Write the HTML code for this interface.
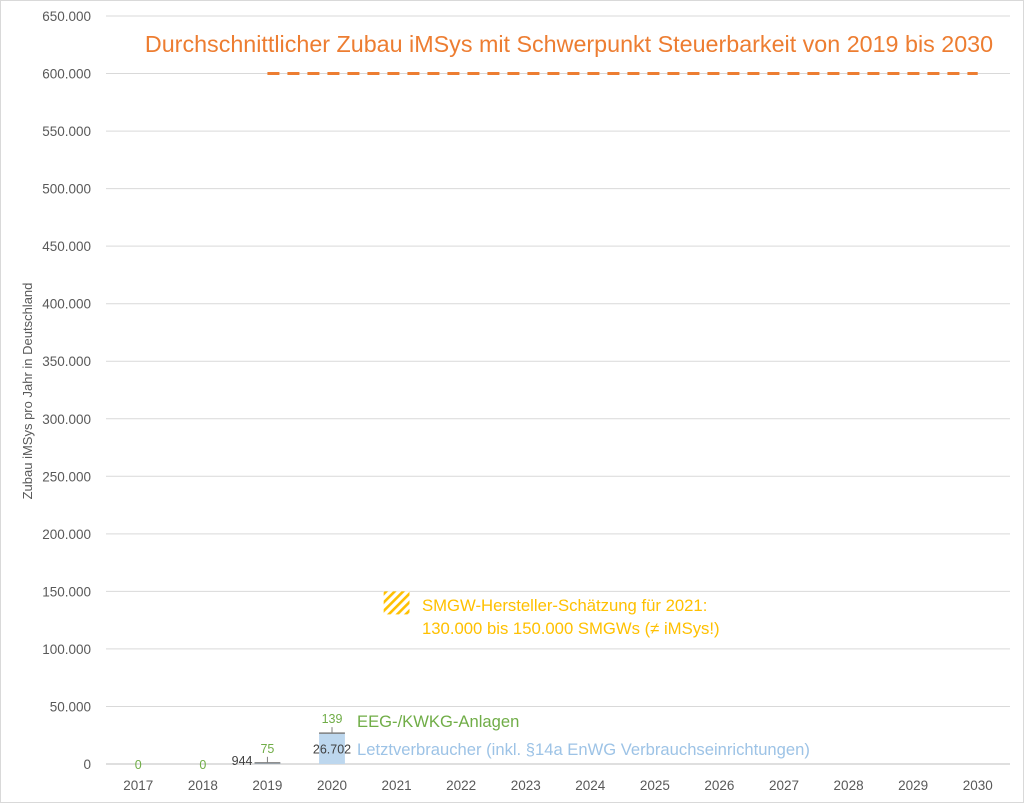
<!DOCTYPE html>
<html><head><meta charset="utf-8">
<style>
html,body{margin:0;padding:0;background:#fff}
svg{display:block;font-family:"Liberation Sans",sans-serif}
</style></head>
<body>
<svg id="chart" width="1024" height="803" viewBox="0 0 1024 803" xmlns="http://www.w3.org/2000/svg">
<rect x="0.5" y="0.5" width="1023" height="802" fill="#fff" stroke="#d9d9d9"/>
<defs>
<pattern id="hatch" patternUnits="userSpaceOnUse" width="6" height="6" patternTransform="rotate(45)">
<rect width="6" height="6" fill="#fff"/><rect width="2.6" height="6" fill="#FFC000"/>
</pattern>
</defs>
<g id="grid"></g>
<g id="yticks"></g>
<g id="xticks"></g>
<g id="marks"></g>
<text transform="translate(32,391) rotate(-90)" text-anchor="middle" font-size="13" fill="#595959">Zubau iMSys pro Jahr in Deutschland</text>
<text x="569" y="52" text-anchor="middle" font-size="23.3" fill="#ED7D31">Durchschnittlicher Zubau iMSys mit Schwerpunkt Steuerbarkeit von 2019 bis 2030</text>
<text x="422" y="611" font-size="16.7" fill="#FFC000">SMGW-Hersteller-Schätzung für 2021:</text>
<text x="422" y="634" font-size="16.7" fill="#FFC000">130.000 bis 150.000 SMGWs (≠ iMSys!)</text>
<text x="357" y="727" font-size="16.6" fill="#70AD47">EEG-/KWKG-Anlagen</text>
<text x="357" y="755" font-size="16.6" fill="#9DC3E6">Letztverbraucher (inkl. §14a EnWG Verbrauchseinrichtungen)</text>
</svg>
<script>
const categories=["2017","2018","2019","2020","2021","2022","2023","2024","2025","2026","2027","2028","2029","2030"];
const letztverbraucher=[0,0,944,26702,null,null,null,null,null,null,null,null,null,null];
const eeg=[0,0,75,139,null,null,null,null,null,null,null,null,null,null];
const targetValue=600000;
const targetStartIdx=2, targetEndIdx=13;
const estimateLow=130000, estimateHigh=150000, estimateIdx=4;
const yTicks=[0,50000,100000,150000,200000,250000,300000,350000,400000,450000,500000,550000,600000,650000];

const NS="http://www.w3.org/2000/svg";
const x0=106,x1=1010,yBase=764,yTop=16,yMax=650000;
const step=(x1-x0)/categories.length;
const xc=i=>x0+step*(i+0.5);
const y=v=>yBase-(v/yMax)*(yBase-yTop);
const fmt=v=>v.toLocaleString('de-DE');
function mk(tag,attrs,parent,txt){const e=document.createElementNS(NS,tag);for(const k in attrs)e.setAttribute(k,attrs[k]);if(txt!==undefined)e.textContent=txt;parent.appendChild(e);return e;}
const grid=document.getElementById('grid'),yt=document.getElementById('yticks'),xt=document.getElementById('xticks'),marks=document.getElementById('marks');
yTicks.forEach(v=>{
 const l=mk('line',{x1:x0,x2:x1,y1:y(v),y2:y(v),stroke:v===0?'#bfbfbf':'#d9d9d9','stroke-width':1},grid);
 
 
 const t=mk('text',{x:91,y:y(v)+5,'text-anchor':'end','font-size':13.5,fill:'#595959'},yt,fmt(v));
 
 
});
categories.forEach((c,i)=>{
 const t=mk('text',{x:xc(i),y:790,'text-anchor':'middle','font-size':13.5,fill:'#595959'},xt,c);
 
 
});
const bw=step*0.4;
categories.forEach((c,i)=>{
 const lv=letztverbraucher[i],ev=eeg[i];
 if(lv===null)return;
 if(lv>0){
  const top=y(lv);
  const r=mk('rect',{x:xc(i)-bw/2,y:top,width:bw,height:yBase-top,fill:'#BDD7EE'},marks);
  
  
  const ey=y(lv+ev);
  const el=mk('line',{x1:xc(i)-bw/2,x2:xc(i)+bw/2,y1:ey,y2:ey,stroke:'#7f7f7f','stroke-width':1.5},marks);
  
  
  const tk=mk('line',{x1:xc(i),x2:xc(i),y1:ey,y2:ey-6,stroke:'#7f7f7f','stroke-width':1},marks);
  
  
  const et=mk('text',{x:xc(i),y:ey-10,'text-anchor':'middle','font-size':12.5,fill:'#70AD47'},marks,fmt(ev));
  
  
  const big=(yBase-top)>18;
  const lt=mk('text',{x:big?xc(i):xc(i)-bw/2-2,y:big?(top+yBase)/2+5:yBase+1,'text-anchor':big?'middle':'end','font-size':12.5,fill:'#404040'},marks,fmt(lv));
  
  
 } else {
  const t=mk('text',{x:xc(i),y:yBase+5,'text-anchor':'middle','font-size':12.5,fill:'#70AD47'},marks,fmt(ev));
  
  
 }
});
const tl=mk('line',{x1:xc(targetStartIdx),x2:xc(targetEndIdx),y1:y(targetValue),y2:y(targetValue),stroke:'#ED7D31','stroke-width':3,'stroke-dasharray':'12 8'},marks);


const er=mk('rect',{x:xc(estimateIdx)-bw/2,y:y(estimateHigh),width:bw,height:y(estimateLow)-y(estimateHigh),fill:'url(#hatch)'},marks);


</script>
</body></html>
